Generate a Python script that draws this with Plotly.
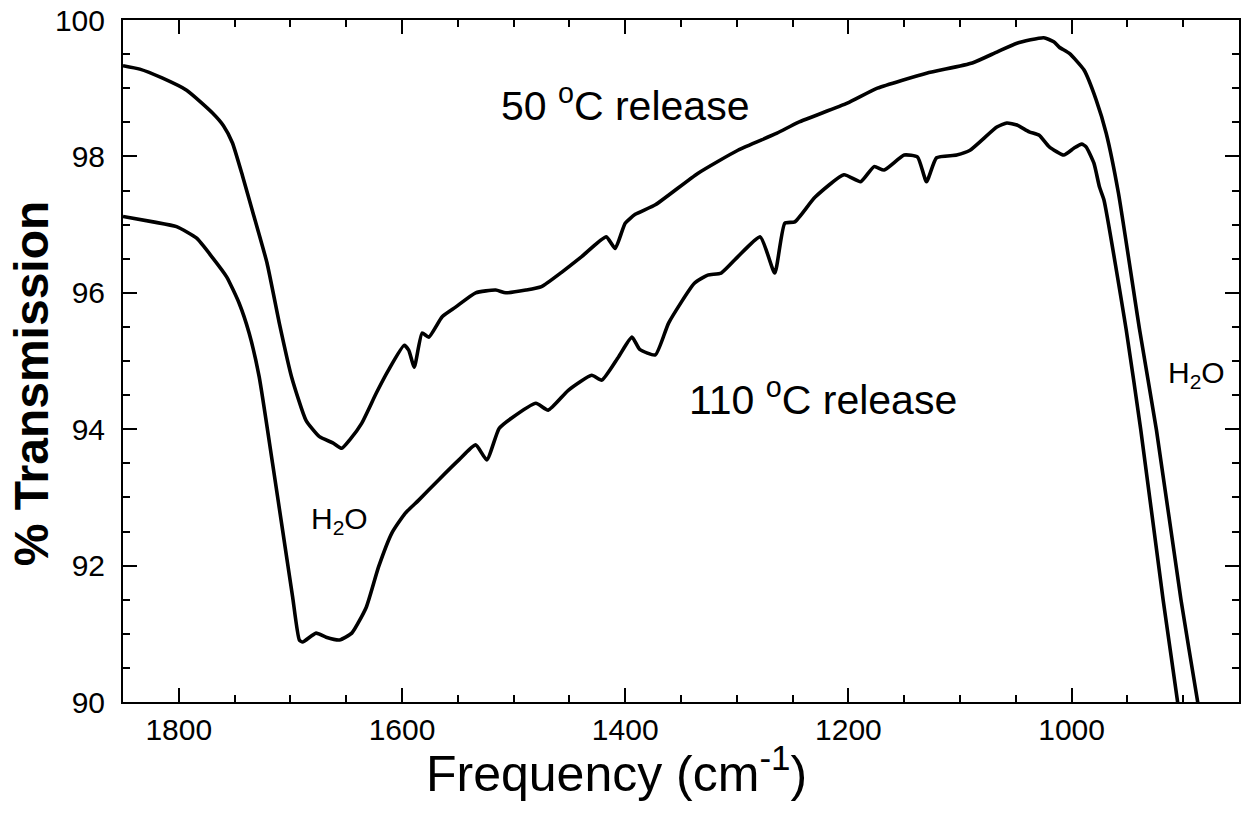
import plotly.graph_objects as go

# 50 °C release (upper spectrum)
freq_50 = [1850, 1835, 1815, 1793, 1770, 1760, 1752, 1743, 1734, 1721, 1710, 1699, 1686, 1674,
           1662, 1654, 1647, 1636, 1623, 1612, 1598, 1594, 1589, 1582, 1576, 1564, 1552,
           1534, 1516, 1507, 1489, 1475, 1457, 1439, 1417, 1409, 1400, 1391, 1373, 1335,
           1299, 1264, 1245, 1201, 1174, 1130, 1089, 1067, 1049, 1025, 1016, 1011, 1002,
           989, 978, 969, 958, 939, 924, 902, 887, 884]
trans_50 = [99.33, 99.28, 99.15, 98.97, 98.64, 98.45, 98.20, 97.72, 97.20, 96.44, 95.56, 94.77, 94.13, 93.89,
            93.80, 93.72, 93.84, 94.09, 94.53, 94.87, 95.23, 95.16, 94.91, 95.41, 95.35, 95.65, 95.79,
            96.00, 96.04, 96.00, 96.04, 96.09, 96.30, 96.53, 96.82, 96.65, 97.02, 97.15, 97.29, 97.75,
            98.09, 98.34, 98.50, 98.78, 99.00, 99.22, 99.37, 99.53, 99.66, 99.74, 99.68, 99.60, 99.51,
            99.27, 98.83, 98.34, 97.46, 95.45, 93.99, 91.50, 90.00, 89.70]

# 110 °C release (lower spectrum)
freq_110 = [1850, 1823, 1802, 1784, 1770, 1757, 1746, 1737, 1728, 1716, 1707, 1698, 1692,
            1689, 1677, 1668, 1656, 1645, 1632, 1621, 1609, 1597, 1585, 1567, 1549, 1534,
            1524, 1513, 1502, 1480, 1469, 1451, 1430, 1421, 1406, 1394, 1387, 1373, 1361,
            1338, 1326, 1314, 1299, 1279, 1266, 1257, 1248, 1230, 1204, 1189, 1177, 1168,
            1150, 1138, 1130, 1121, 1103, 1091, 1067, 1058, 1049, 1038, 1029, 1020, 1007,
            998, 991, 987, 980, 975, 971, 951, 938, 918, 905, 903]
trans_110 = [97.12, 97.04, 96.97, 96.80, 96.52, 96.23, 95.85, 95.41, 94.77, 93.50, 92.52, 91.54, 90.91,
             90.88, 91.01, 90.95, 90.91, 91.01, 91.39, 91.98, 92.48, 92.77, 92.96, 93.26, 93.55, 93.77,
             93.55, 94.01, 94.16, 94.38, 94.28, 94.57, 94.79, 94.72, 95.06, 95.35, 95.17, 95.09, 95.56,
             96.14, 96.26, 96.29, 96.53, 96.82, 96.29, 97.02, 97.04, 97.40, 97.73, 97.63, 97.85, 97.80,
             98.02, 97.99, 97.63, 97.98, 98.02, 98.09, 98.43, 98.49, 98.46, 98.36, 98.31, 98.14, 98.02,
             98.12, 98.18, 98.14, 97.90, 97.55, 97.36, 95.45, 93.99, 91.50, 90.00, 89.70]

x_ticks = [1800, 1600, 1400, 1200, 1000]
y_ticks = [90, 92, 94, 96, 98, 100]

FONT = "Liberation Sans, Arial, Helvetica, sans-serif"

fig = go.Figure()
for fx, ty in ((freq_50, trans_50), (freq_110, trans_110)):
    fig.add_trace(go.Scatter(x=fx, y=ty, mode="lines",
                             line=dict(color="black", width=3.6, shape="spline", smoothing=0.5),
                             showlegend=False))

axis_common = dict(showline=True, linecolor="black", linewidth=2, mirror="ticks",
                   ticks="inside", ticklen=14, tickwidth=2, tickcolor="black",
                   showgrid=False, zeroline=False,
                   tickfont=dict(family=FONT, size=30, color="black"))

fig.update_xaxes(range=[1850, 850], tickvals=x_ticks,
                 minor=dict(dtick=50, tick0=0, ticks="inside", ticklen=7, tickwidth=2,
                            tickcolor="black", showgrid=False),
                 ticklabelstandoff=0, **axis_common)
fig.update_yaxes(range=[90, 100], tickvals=y_ticks,
                 minor=dict(dtick=0.5, tick0=0, ticks="inside", ticklen=7, tickwidth=2,
                            tickcolor="black", showgrid=False),
                 ticklabelstandoff=10, **axis_common)

annotations = [
    dict(x=1513, y=98.78, text="50 <sup>o</sup>C release", xanchor="left", yanchor="middle",
         font=dict(family=FONT, size=41, color="black")),
    dict(x=1344.6, y=94.47, text="110 <sup>o</sup>C release", xanchor="left", yanchor="middle",
         font=dict(family=FONT, size=41, color="black")),
    dict(x=1683, y=92.66, text="H<sub>2</sub>O", xanchor="left", yanchor="middle",
         font=dict(family=FONT, size=30, color="black")),
    dict(x=915, y=94.80, text="H<sub>2</sub>O", xanchor="left", yanchor="middle",
         font=dict(family=FONT, size=30, color="black")),
    dict(x=-0.0814, y=0.4663, xref="paper", yref="paper", text="<b>% Transmission</b>",
         textangle=-90, xanchor="center", yanchor="middle",
         font=dict(family=FONT, size=48, color="black")),
    dict(x=0.442, y=-0.0997, xref="paper", yref="paper", text="Frequency (cm<sup>-1</sup>)",
         xanchor="center", yanchor="middle",
         font=dict(family=FONT, size=50, color="black")),
]
for a in annotations:
    a.setdefault("xref", "x")
    a.setdefault("yref", "y")
    a["showarrow"] = False
fig.update_layout(annotations=annotations)

fig.update_layout(width=1242, height=813, margin=dict(l=123, r=1, t=20, b=111),
                  plot_bgcolor="white", paper_bgcolor="white",
                  font=dict(family=FONT, color="black"))

fig.write_html("out.html", config={"displayModeBar": False},
               post_script="document.body.style.margin='0';document.body.style.overflow='hidden';")
